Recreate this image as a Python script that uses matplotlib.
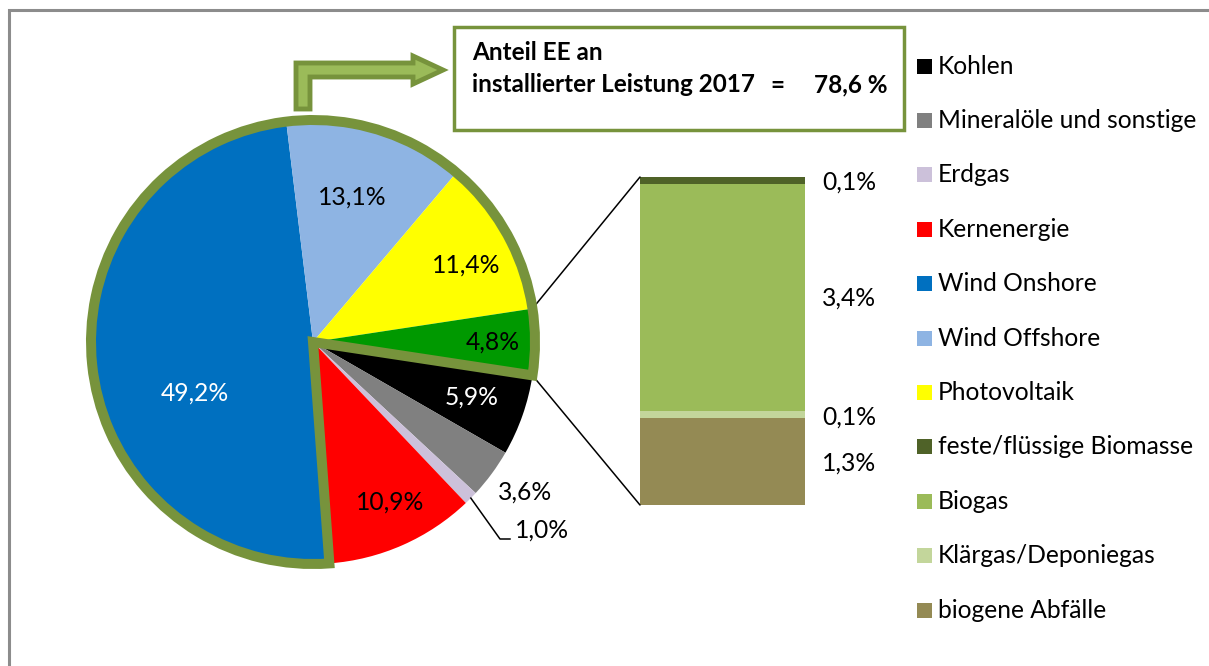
import matplotlib
matplotlib.use('Agg')
import matplotlib.pyplot as plt
from matplotlib.patches import Rectangle, Wedge, Polygon, ConnectionPatch
import numpy as np

W, H = 1209, 666
FONT = ['Lato', 'DejaVu Sans']

# ---------------- data ----------------
pie_labels = ['Kohlen', 'Mineralöle und sonstige', 'Erdgas', 'Kernenergie',
              'Wind Onshore', 'Wind Offshore', 'Photovoltaik', 'Biomasse']
pie_values = [5.9, 3.6, 1.0, 10.9, 49.2, 13.1, 11.4, 4.8]
pie_texts = ['5,9%', '3,6%', '1,0%', '10,9%', '49,2%', '13,1%', '11,4%', '4,8%']
pie_colors = ['#000000', '#808080', '#CCC1DA', '#FF0000',
              '#0070C0', '#8EB4E3', '#FFFF00', '#009900']
pie_text_colors = ['white', 'black', 'black', 'black', 'white', 'black', 'black', 'black']

bar_labels = ['biogene Abfälle', 'Klärgas/Deponiegas', 'Biogas', 'feste/flüssige Biomasse']
bar_values = [1.3, 0.1, 3.4, 0.1]
bar_texts = ['1,3%', '0,1%', '3,4%', '0,1%']
bar_colors = ['#948A54', '#C3D69B', '#9BBB59', '#4F6228']

legend_labels = ['Kohlen', 'Mineralöle und sonstige', 'Erdgas', 'Kernenergie',
                 'Wind Onshore', 'Wind Offshore', 'Photovoltaik',
                 'feste/flüssige Biomasse', 'Biogas', 'Klärgas/Deponiegas',
                 'biogene Abfälle']
legend_colors = ['#000000', '#808080', '#CCC1DA', '#FF0000', '#0070C0', '#8EB4E3',
                 '#FFFF00', '#4F6228', '#9BBB59', '#C3D69B', '#948A54']

box_line1 = 'Anteil EE an'
box_line2 = 'installierter Leistung 2017'
box_eq = '='
box_value = '78,6 %'

OUTLINE = '#77933C'
ARROW_FILL = '#9BBB59'

# ---------------- figure ----------------
fig = plt.figure(figsize=(W / 100, H / 100), dpi=100, facecolor='white')
ax0 = fig.add_axes([0, 0, 1, 1], zorder=3)
ax0.set_xlim(0, W)
ax0.set_ylim(H, 0)
ax0.axis('off')
ax0.patch.set_alpha(0)

renderer = fig.canvas.get_renderer()


def fit_size(txt, target_px, weight='normal'):
    t = ax0.text(0, 0, txt, fontsize=20, family=FONT, weight=weight)
    w = t.get_window_extent(renderer).width
    t.remove()
    return 20 * target_px / w


FS = fit_size('Mineralöle und sonstige', 260)
FSB = fit_size(box_line2, 283, 'bold')

# ---------------- pie ----------------
cx, cy, R = 313, 342, 222
LIM = 1.1
side = 2 * LIM * R
axp = fig.add_axes([(cx - LIM * R) / W, (H - cy - LIM * R) / H, side / W, side / H], zorder=2)
total = sum(pie_values)
start = -0.5 * 360 * pie_values[-1] / total
wedges, _ = axp.pie(pie_values, colors=pie_colors, startangle=start, counterclock=False,
                    radius=1, wedgeprops=dict(linewidth=0))
axp.set_xlim(-LIM, LIM)
axp.set_ylim(-LIM, LIM)
axp.set_aspect('equal')
axp.axis('off')

# EE outline (Wind Onshore .. Biomasse)
ee = wedges[4:8]
t1 = min(w.theta1 for w in ee)
t2 = max(w.theta2 for w in ee)
outline = Wedge((0, 0), 1, t1, t2, fill=False, ec=OUTLINE, lw=7.2,
                joinstyle='miter', clip_on=False, zorder=5)
axp.add_patch(outline)

# ---------------- bar ----------------
bx0, bx1, by0, by1 = 640, 805, 177, 505
axb = fig.add_axes([bx0 / W, (H - by1) / H, (bx1 - bx0) / W, (by1 - by0) / H], zorder=1)
bottom = 0
for v, c in zip(bar_values, bar_colors):
    axb.bar(0, v, bottom=bottom, width=1, color=c, linewidth=0)
    bottom += v
axb.set_xlim(-0.5, 0.5)
axb.set_ylim(0, sum(bar_values))
axb.axis('off')

# connector lines from "other" slice to bar corners
other = wedges[-1]
for ang, yb in [(other.theta2, sum(bar_values)), (other.theta1, 0)]:
    a = np.deg2rad(ang)
    con = ConnectionPatch(xyA=(np.cos(a), np.sin(a)), coordsA=axp.transData,
                          xyB=(-0.5, yb), coordsB=axb.transData,
                          color='black', lw=1.1, zorder=0)
    axp.add_artist(con)

# ---------------- labels ----------------
pie_label_pos = [(472, 397), (525, 492), (None, None), (390, 502),
                 (195, 393), (352, 197), (466, 265), (493, 342)]
for i, (txt, (x, y)) in enumerate(zip(pie_texts, pie_label_pos)):
    if x is None:
        continue
    ax0.text(x, y, txt, fontsize=FS, family=FONT, color=pie_text_colors[i],
             ha='center', va='center')

# Erdgas label with leader line
eg = wedges[2]
am = np.deg2rad(0.5 * (eg.theta1 + eg.theta2))
p_disp = axp.transData.transform((np.cos(am), np.sin(am)))
px, py = ax0.transData.inverted().transform(p_disp)
ax0.plot([px, 500, 510], [py, 539, 539], color='black', lw=1.1)
ax0.text(515, 530, pie_texts[2], fontsize=FS, family=FONT, ha='left', va='center')

bar_label_y = [463, 417, 298, 182]
for txt, y in zip(bar_texts, bar_label_y):
    ax0.text(822, y, txt, fontsize=FS, family=FONT, ha='left', va='center')

# ---------------- legend ----------------
ly0, ldy = 66, 54.4
for i, (lab, col) in enumerate(zip(legend_labels, legend_colors)):
    y = ly0 + i * ldy
    ax0.add_patch(Rectangle((917, y - 7.5), 15, 15, facecolor=col, edgecolor='none'))
    ax0.text(938, y, lab, fontsize=FS, family=FONT, ha='left', va='center')

# ---------------- EE box + arrow ----------------
ax0.add_patch(Rectangle((454, 27), 450, 103, facecolor='white', edgecolor=OUTLINE, lw=2.5))
ax0.text(472, 52, box_line1, fontsize=FSB, family=FONT, weight='bold', ha='left', va='center')
ax0.text(472, 85, box_line2, fontsize=FSB, family=FONT, weight='bold', ha='left', va='center')
ax0.text(777, 85, box_eq, fontsize=FSB, family=FONT, weight='bold', ha='center', va='center')
ax0.text(887, 85, box_value, fontsize=FSB, family=FONT, weight='bold', ha='right', va='center')

arrow = Polygon([(296, 109), (296, 63), (413, 63), (413, 56), (443, 70), (413, 84),
                 (413, 77), (310, 77), (310, 109)], closed=True,
                facecolor=ARROW_FILL, edgecolor=OUTLINE, lw=3.5, joinstyle='miter')
ax0.add_patch(arrow)

# ---------------- outer frame ----------------
ax0.plot([9, 9, W + 5], [H + 5, 10, 10], color='#8C8C8C', lw=2.2, solid_joinstyle='miter')

fig.savefig('out.png', dpi=100, facecolor='white')
